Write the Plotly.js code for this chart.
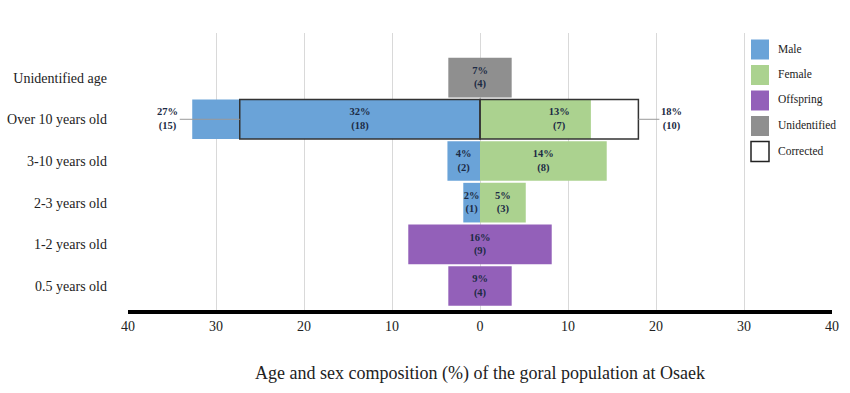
<!DOCTYPE html>
<html>
<head>
<meta charset="utf-8">
<script src="https://cdn.plot.ly/plotly-3.0.1.min.js"></script>
<style>html,body{margin:0;padding:0;background:#fff;}#chart{width:850px;height:393px;}</style>
</head>
<body>
<div id="chart"></div>
<script>
// ---- data ----
const categories = ["0.5 years old","1-2 years old","2-3 years old","3-10 years old","Over 10 years old","Unidentified age"];
const male        = [null, null, 1.9, 3.7, 32.7, null];
const maleText    = ["", "", "2%<br>(1)", "4%<br>(2)", "", ""];
const female      = [null, null, 5.2, 14.4, 12.6, null];
const femaleText  = ["", "", "5%<br>(3)", "14%<br>(8)", "", ""];
const offspring   = [7.2, 16.3, null, null, null, null];
const offspringText = ["9%<br>(4)", "16%<br>(9)", "", "", "", ""];
const unidentified = [null, null, null, null, null, 7.2];
const unidentifiedText = ["", "", "", "", "", "7%<br>(4)"];
const correctedMale   = [null, null, null, null, 27.3, null];
const correctedMaleText = ["", "", "", "", "32%<br>(18)", ""];
const correctedFemale = [null, null, null, null, 18.0, null];
const correctedFemaleText = ["", "", "", "", "13%<br>(7)", ""];
const correctedMaleLabel = "27%<br>(15)";
const correctedFemaleLabel = "18%<br>(10)";
const xTickVals = [-40,-30,-20,-10,0,10,20,30,40];
const xTickText = ["40","30","20","10","0","10","20","30","40"];
const legendNames = ["Male","Female","Offspring","Unidentified","Corrected"];

// ---- styles ----
const C = {male:"#6aa3d8", female:"#abd28f", offspring:"#9360b9", unid:"#8f8f8f"};
const serif = "Liberation Serif, Times New Roman, serif";
const labelFont = {family: serif, size: 10.5, color: "#1c2b45", weight: "bold"};
const W = 0.95;

function barTrace(name, xs, base, text, color, extra) {
  return Object.assign({
    type: "bar", orientation: "h", name: name,
    y: categories, x: xs, base: base, width: W,
    text: text, textposition: "inside", insidetextanchor: "middle",
    textangle: 0, constraintext: "none", textfont: labelFont,
    marker: {color: color, line: {width: 0}},
    hoverinfo: "skip", showlegend: false
  }, extra || {});
}

const traces = [
  barTrace("Male", male.map(v => v == null ? null : -v), 0, maleText, C.male),
  barTrace("Female", female, 0, femaleText, C.female),
  barTrace("Offspring", offspring, offspring.map(v => v == null ? null : -v/2), offspringText, C.offspring),
  barTrace("Unidentified", unidentified, unidentified.map(v => v == null ? null : -v/2), unidentifiedText, C.unid),
  barTrace("Corrected", correctedMale.map(v => v == null ? null : -v), 0, correctedMaleText, "rgba(0,0,0,0)",
    {marker: {color: "rgba(0,0,0,0)", line: {width: 1.5, color: "#333"}}}),
  barTrace("Corrected", correctedFemale, 0, correctedFemaleText, "rgba(0,0,0,0)",
    {marker: {color: "rgba(0,0,0,0)", line: {width: 1.5, color: "#333"}}})
];

// legend drawn in pixel space of the figure
const ML = 128, MR = 18, MT = 33, MB = 83, FW = 850, FH = 393;
const PW = FW - ML - MR, PH = FH - MT - MB;
const px = x => (x - ML) / PW;
const py = y => (FH - MB - y) / PH;
const legendColors = [C.male, C.female, C.offspring, C.unid, "#ffffff"];
const shapes = [], annotations = [];
legendNames.forEach((n, i) => {
  const cy = 49.5 + i * 25.5;
  shapes.push({
    type: "rect", xref: "paper", yref: "paper",
    x0: px(751), x1: px(769), y0: py(cy + 10), y1: py(cy - 10),
    fillcolor: legendColors[i],
    line: {width: n === "Corrected" ? 1.5 : 0, color: "#222"}
  });
  annotations.push({
    xref: "paper", yref: "paper", x: px(776), y: py(cy - 1),
    xanchor: "left", yanchor: "middle", showarrow: false,
    text: n, font: {family: serif, size: 11.5, color: "#222"}
  });
});

const overIdx = categories.indexOf("Over 10 years old");
annotations.push({
  x: -correctedMale[overIdx], y: categories[overIdx], xref: "x", yref: "y",
  text: correctedMaleLabel, showarrow: true, arrowhead: 0, arrowwidth: 1, arrowcolor: "#9a9a9a",
  ax: -72, ay: 0, font: labelFont
});
annotations.push({
  x: correctedFemale[overIdx], y: categories[overIdx], xref: "x", yref: "y",
  text: correctedFemaleLabel, showarrow: true, arrowhead: 0, arrowwidth: 1, arrowcolor: "#9a9a9a",
  ax: 33, ay: 0, font: labelFont
});

const layout = {
  width: FW, height: FH,
  margin: {l: ML, r: MR, t: MT, b: MB, pad: 0},
  paper_bgcolor: "#fff", plot_bgcolor: "#fff",
  barmode: "overlay", showlegend: false,
  xaxis: {
    range: [-40, 40], tickmode: "array", tickvals: xTickVals, ticktext: xTickText,
    showgrid: true, gridcolor: "#d9d9d9", gridwidth: 1, zeroline: false,
    showline: true, linecolor: "#000", linewidth: 4, ticks: "",
    ticklabelstandoff: 0,
    tickfont: {family: serif, size: 14, color: "#222"},
    title: {text: "Age and sex composition (%) of the goral population at Osaek",
            font: {family: serif, size: 18, color: "#222"}, standoff: 35},
    fixedrange: true
  },
  yaxis: {
    type: "category", categoryorder: "array", categoryarray: categories,
    range: [-0.575, 6.07], showgrid: false, zeroline: false, showline: false,
    ticks: "", ticklabelstandoff: 20,
    tickfont: {family: serif, size: 14, color: "#222"},
    fixedrange: true
  },
  shapes: shapes,
  annotations: annotations
};

Plotly.newPlot("chart", traces, layout, {displayModeBar: false, staticPlot: true});
</script>
</body>
</html>
